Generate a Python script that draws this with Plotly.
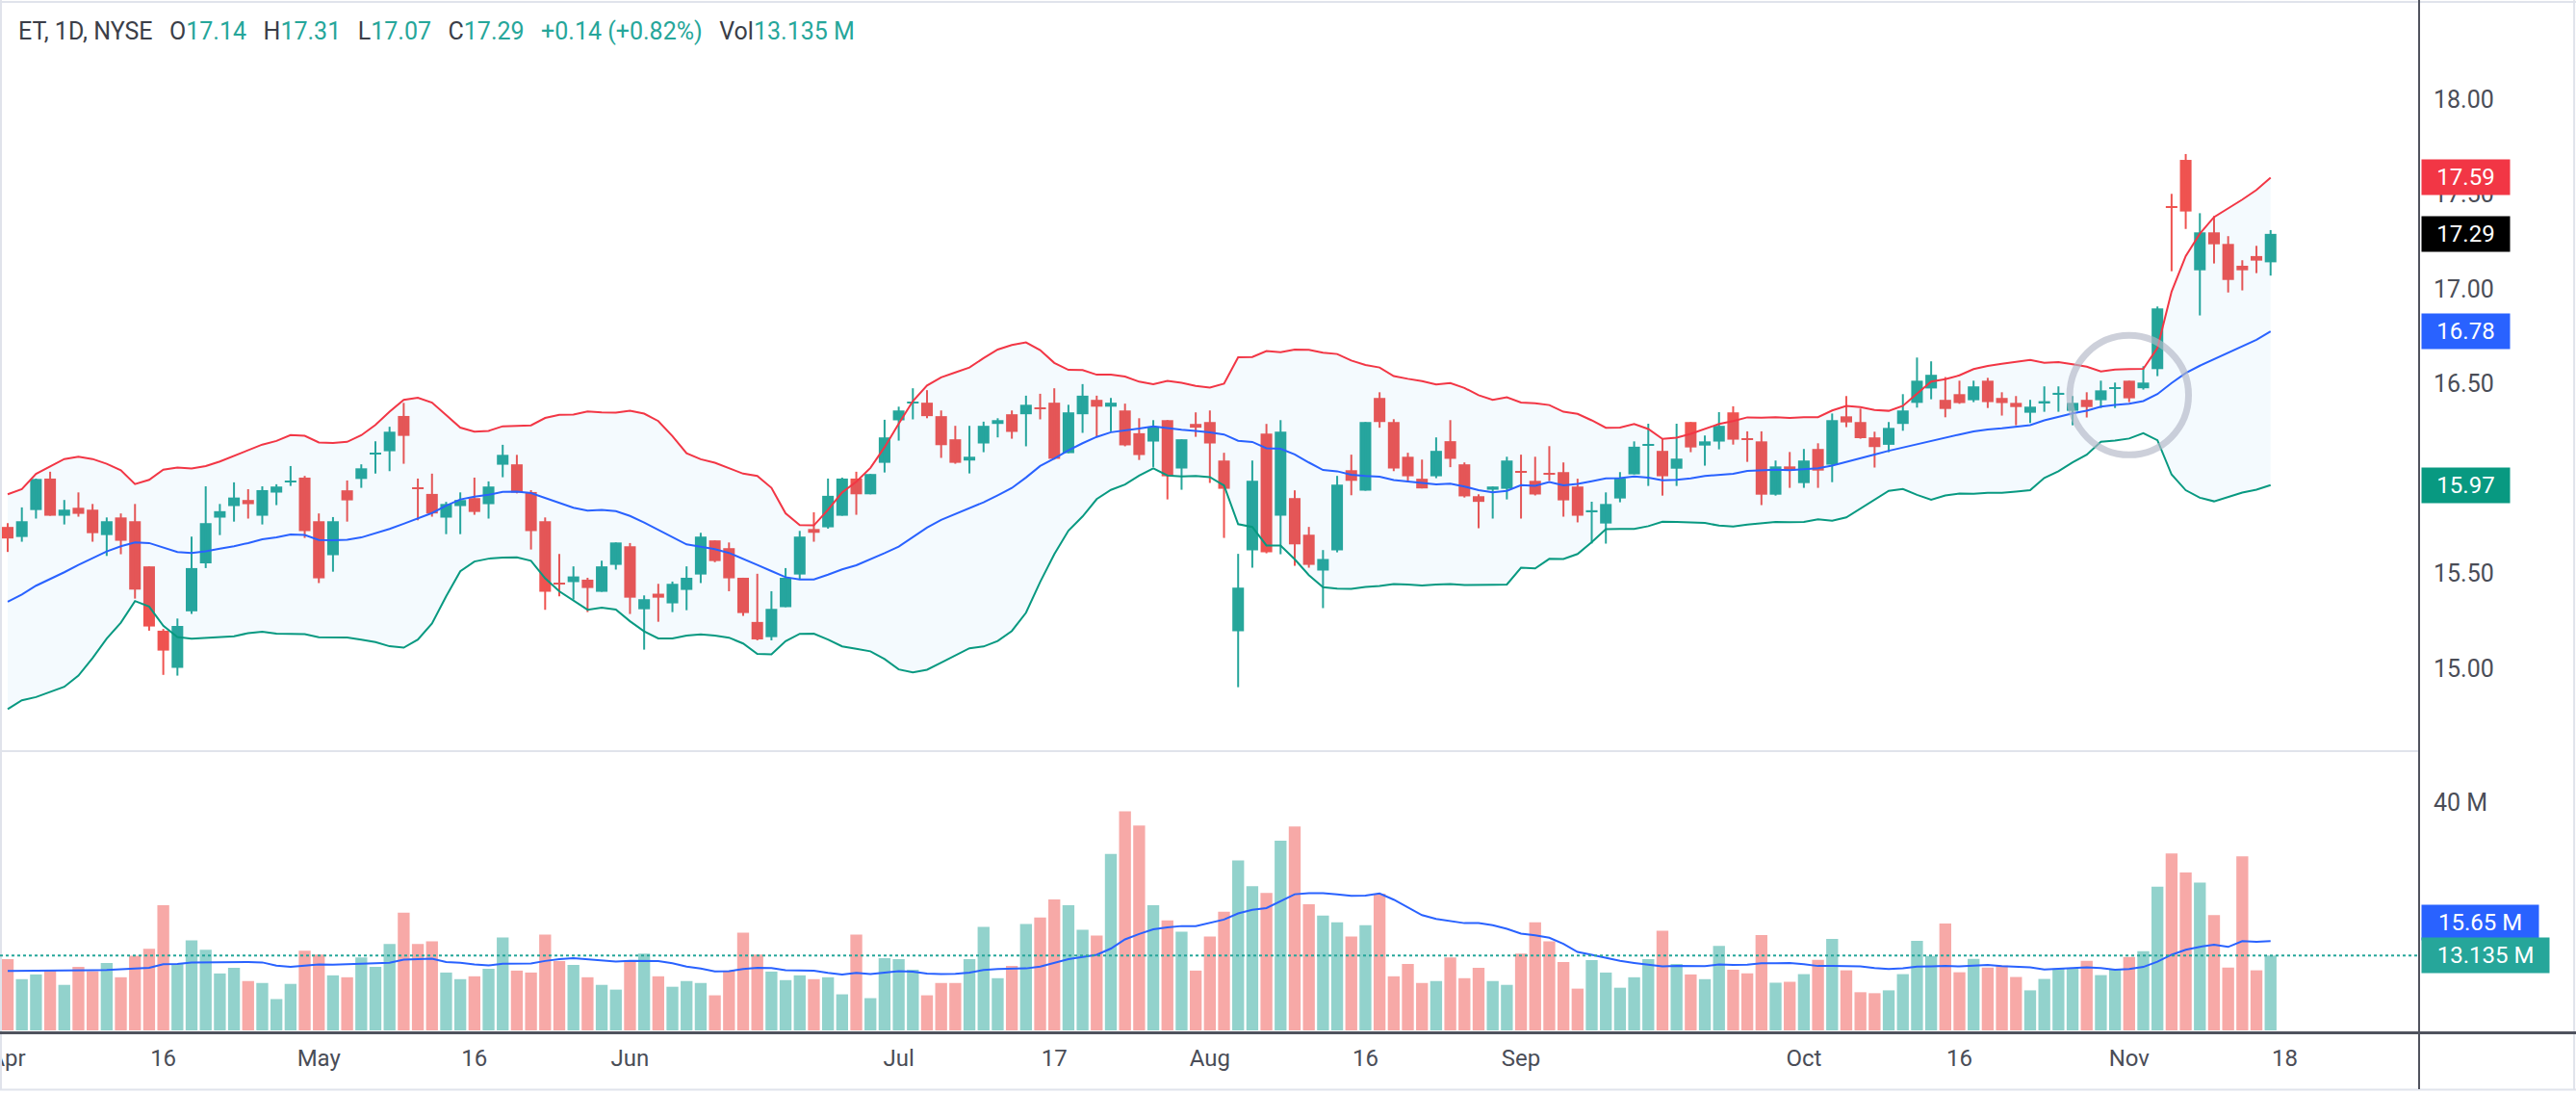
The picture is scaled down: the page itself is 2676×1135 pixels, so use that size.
import pandas as pd
import plotly.graph_objects as go

# ---------------- data (ET, 1D, NYSE, 2024-04-01 .. 2024-11-15) ----------------
opens = [15.745, 15.692, 15.834, 16.000, 15.804, 15.846, 15.836, 15.702, 15.795, 15.775,
         15.537, 15.198, 15.002, 15.300, 15.553, 15.794, 15.855, 15.887, 15.804, 15.926,
         15.980, 16.005, 15.775, 15.596, 15.938, 15.998, 16.127, 16.144, 16.330, 15.954,
         15.919, 15.794, 15.855, 15.897, 15.865, 16.073, 16.075, 15.929, 15.775, 15.449,
         15.454, 15.467, 15.403, 15.545, 15.643, 15.311, 15.393, 15.342, 15.413, 15.494,
         15.674, 15.633, 15.477, 15.244, 15.164, 15.322, 15.494, 15.734, 15.743, 15.804,
         16.000, 15.917, 16.083, 16.307, 16.398, 16.400, 16.329, 16.207, 16.095, 16.185,
         16.288, 16.339, 16.339, 16.374, 16.400, 16.134, 16.339, 16.415, 16.379, 16.359,
         16.239, 16.195, 16.308, 16.053, 16.288, 16.298, 16.095, 15.195, 15.621, 16.237,
         15.804, 15.897, 15.704, 15.515, 15.621, 16.044, 15.936, 16.425, 16.298, 16.115,
         15.999, 16.012, 16.197, 16.075, 15.907, 15.941, 15.946, 16.039, 15.988, 16.029,
         16.034, 15.958, 15.827, 15.763, 15.895, 16.022, 16.174, 16.146, 16.052, 16.298,
         16.174, 16.195, 16.349, 16.213, 16.196, 15.915, 16.064, 15.976, 16.156, 16.073,
         16.328, 16.298, 16.217, 16.178, 16.288, 16.399, 16.475, 16.415, 16.445, 16.413,
         16.516, 16.425, 16.399, 16.347, 16.399, 16.445, 16.357, 16.415, 16.413, 16.476,
         16.516, 16.476, 16.577, 17.435, 17.680, 17.098, 17.298, 17.237, 17.122, 17.173,
         17.14]
highs = [15.765, 15.848, 16.000, 16.036, 15.887, 15.927, 15.866, 15.795, 15.816, 15.866,
         15.537, 15.207, 15.262, 15.694, 15.959, 15.866, 15.980, 15.944, 15.959, 15.970,
         16.066, 16.014, 15.816, 15.797, 15.990, 16.075, 16.196, 16.273, 16.399, 16.000,
         16.026, 15.877, 15.927, 16.005, 15.985, 16.178, 16.125, 15.939, 15.795, 15.602,
         15.537, 15.477, 15.567, 15.663, 15.660, 15.384, 15.445, 15.457, 15.537, 15.714,
         15.674, 15.663, 15.477, 15.498, 15.406, 15.528, 15.724, 15.822, 16.000, 16.005,
         16.036, 16.024, 16.310, 16.379, 16.476, 16.466, 16.359, 16.278, 16.278, 16.300,
         16.318, 16.359, 16.437, 16.447, 16.476, 16.389, 16.498, 16.437, 16.425, 16.395,
         16.318, 16.308, 16.308, 16.207, 16.349, 16.359, 16.136, 15.603, 16.095, 16.288,
         16.308, 15.938, 15.745, 15.623, 16.014, 16.126, 16.298, 16.455, 16.313, 16.136,
         16.100, 16.217, 16.308, 16.085, 15.917, 15.958, 16.115, 16.126, 16.115, 16.171,
         16.085, 15.999, 15.878, 15.927, 16.034, 16.196, 16.289, 16.213, 16.289, 16.298,
         16.227, 16.350, 16.381, 16.249, 16.249, 16.095, 16.140, 16.156, 16.186, 16.343,
         16.435, 16.369, 16.247, 16.298, 16.445, 16.638, 16.618, 16.535, 16.516, 16.516,
         16.531, 16.455, 16.435, 16.415, 16.486, 16.486, 16.435, 16.455, 16.516, 16.506,
         16.516, 16.592, 16.907, 17.501, 17.711, 17.399, 17.384, 17.278, 17.151, 17.227,
         17.31]
lows = [15.613, 15.667, 15.789, 15.804, 15.758, 15.799, 15.667, 15.592, 15.601, 15.367,
        15.198, 14.965, 14.961, 15.286, 15.528, 15.702, 15.773, 15.789, 15.758, 15.860,
        15.961, 15.687, 15.449, 15.509, 15.773, 15.951, 16.027, 16.039, 16.078, 15.780,
        15.799, 15.707, 15.707, 15.809, 15.789, 16.007, 15.922, 15.626, 15.308, 15.379,
        15.362, 15.296, 15.403, 15.520, 15.286, 15.098, 15.245, 15.296, 15.306, 15.449,
        15.559, 15.406, 15.276, 15.147, 15.147, 15.322, 15.471, 15.667, 15.736, 15.804,
        15.809, 15.917, 16.032, 16.200, 16.312, 16.318, 16.109, 16.078, 16.027, 16.139,
        16.217, 16.210, 16.170, 16.312, 16.100, 16.134, 16.241, 16.220, 16.249, 16.170,
        16.098, 16.061, 15.890, 15.941, 16.220, 15.977, 15.687, 14.900, 15.530, 15.606,
        15.601, 15.540, 15.530, 15.317, 15.611, 15.912, 15.936, 16.268, 16.039, 15.982,
        15.948, 16.002, 16.060, 15.900, 15.738, 15.789, 15.890, 15.789, 15.911, 15.988,
        15.799, 15.769, 15.658, 15.657, 15.875, 16.022, 15.961, 15.910, 15.961, 16.139,
        16.068, 16.154, 16.179, 16.088, 15.860, 15.910, 15.951, 15.951, 15.951, 15.981,
        16.271, 16.210, 16.058, 16.139, 16.252, 16.374, 16.418, 16.323, 16.394, 16.403,
        16.372, 16.332, 16.281, 16.293, 16.352, 16.352, 16.281, 16.322, 16.372, 16.372,
        16.403, 16.469, 16.540, 17.093, 17.316, 16.860, 17.134, 16.981, 16.992, 17.083,
        17.07]
closes = [15.684, 15.775, 15.998, 15.804, 15.836, 15.814, 15.712, 15.775, 15.672, 15.415,
          15.220, 15.093, 15.223, 15.528, 15.765, 15.828, 15.900, 15.865, 15.939, 15.958,
          15.985, 15.723, 15.474, 15.775, 15.885, 16.054, 16.134, 16.247, 16.225, 15.948,
          15.816, 15.866, 15.887, 15.824, 15.958, 16.125, 15.926, 15.723, 15.403, 15.443,
          15.484, 15.423, 15.537, 15.663, 15.372, 15.364, 15.372, 15.445, 15.477, 15.694,
          15.565, 15.474, 15.291, 15.152, 15.313, 15.477, 15.694, 15.714, 15.909, 16.000,
          15.917, 16.024, 16.217, 16.359, 16.406, 16.329, 16.176, 16.083, 16.115, 16.278,
          16.308, 16.246, 16.389, 16.367, 16.104, 16.349, 16.437, 16.379, 16.400, 16.175,
          16.124, 16.273, 16.012, 16.207, 16.268, 16.185, 15.946, 15.425, 15.988, 15.611,
          16.247, 15.653, 15.545, 15.576, 15.968, 15.988, 16.298, 16.298, 16.053, 16.012,
          15.948, 16.146, 16.104, 15.906, 15.877, 15.958, 16.095, 16.032, 15.916, 16.022,
          15.885, 15.804, 15.832, 15.866, 16.000, 16.168, 16.181, 16.012, 16.105, 16.164,
          16.196, 16.278, 16.205, 16.206, 15.915, 16.064, 16.044, 16.095, 16.042, 16.308,
          16.296, 16.213, 16.166, 16.267, 16.359, 16.516, 16.547, 16.367, 16.398, 16.486,
          16.403, 16.398, 16.377, 16.379, 16.408, 16.452, 16.399, 16.377, 16.465, 16.482,
          16.423, 16.506, 16.897, 17.428, 17.408, 17.298, 17.235, 17.047, 17.098, 17.149,
          17.29]
volumes_m = [12.47, 8.98, 9.81, 10.53, 7.98, 11.14, 10.37, 11.81, 9.31, 13.08,
             14.30, 21.95, 11.64, 15.80, 14.14, 9.98, 10.98, 8.65, 8.31, 5.49,
             8.15, 13.97, 13.30, 9.65, 9.31, 12.80, 11.14, 15.13, 20.62, 15.13,
             15.63, 10.14, 8.98, 9.48, 10.81, 16.30, 10.48, 10.14, 16.80, 12.14,
             11.47, 9.31, 7.98, 7.15, 12.14, 13.47, 9.48, 7.65, 8.65, 8.31,
             6.15, 10.48, 17.13, 13.30, 10.31, 8.81, 9.65, 8.98, 9.31, 6.32,
             16.80, 5.65, 12.64, 12.47, 10.64, 6.15, 8.31, 8.31, 12.47, 18.13,
             9.15, 11.31, 18.63, 19.79, 22.95, 21.95, 17.63, 16.63, 30.93, 38.41,
             35.92, 21.95, 19.29, 17.29, 10.48, 16.46, 20.79, 29.77, 25.28, 24.11,
             33.26, 35.75, 22.12, 20.12, 18.96, 16.46, 18.46, 23.95, 9.48, 11.64,
             8.31, 8.65, 12.80, 9.15, 10.98, 8.65, 7.98, 13.47, 18.96, 15.63,
             11.97, 7.32, 12.31, 10.14, 7.48, 9.31, 12.47, 17.46, 11.64, 9.81,
             8.98, 14.80, 10.64, 10.00, 16.70, 8.36, 8.52, 9.86, 12.37, 16.04,
             10.53, 6.69, 6.52, 7.02, 9.86, 15.71, 13.04, 18.72, 10.19, 12.53,
             11.03, 11.36, 9.36, 7.02, 9.02, 10.86, 10.86, 12.20, 9.69, 10.70,
             12.87, 13.87, 25.20, 31.00, 27.70, 25.90, 20.22, 11.03, 30.50, 10.53,
             13.135]
# indicator values before the 20-bar window fills
bb_basis_head = [15.350, 15.389, 15.435, 15.469, 15.506, 15.545, 15.582, 15.616, 15.643, 15.663,
                 15.660, 15.638, 15.613, 15.608, 15.616, 15.630, 15.643, 15.660, 15.680]
bb_upper_head = [15.917, 15.944, 16.025, 16.066, 16.103, 16.115, 16.103, 16.078, 16.044, 15.971,
                 15.993, 16.047, 16.058, 16.053, 16.066, 16.090, 16.120, 16.146, 16.179]
bb_lower_head = [14.784, 14.831, 14.848, 14.877, 14.902, 14.961, 15.054, 15.156, 15.240, 15.354,
                 15.325, 15.224, 15.164, 15.156, 15.159, 15.163, 15.168, 15.185, 15.193]
vol_ma_head = [10.42, 10.42, 10.42, 10.48, 10.53, 10.53, 10.53, 10.60, 10.70, 10.80,
               10.98, 11.60, 11.64, 11.90, 11.92, 12.00, 12.03, 12.00, 11.92]

tick_idx = [0, 11, 22, 33, 44, 63, 74, 85, 96, 107, 127, 138, 150, 161]
tick_text = ["Apr", "16", "May", "16", "Jun", "Jul", "17", "Aug", "16", "Sep", "Oct", "16", "Nov", "18"]
price_ticks = [15.0, 15.5, 16.5, 17.0, 17.5, 18.0]
vol_ticks = [40]
highlight_bar = 150
highlight_price = 16.44

# ---------------- indicators ----------------
n = len(closes)
idx = list(range(n))
cs = pd.Series(closes)
basis = cs.rolling(20).mean()
sd = cs.rolling(20).std(ddof=0)
upper = basis + 2 * sd
lower = basis - 2 * sd
h = len(bb_basis_head)
basis.iloc[:h] = bb_basis_head
upper.iloc[:h] = bb_upper_head
lower.iloc[:h] = bb_lower_head
vs = pd.Series(volumes_m)
vol_ma = vs.rolling(20).mean()
vol_ma.iloc[:len(vol_ma_head)] = vol_ma_head

UP = "#26A69A"
DOWN = "#EF5350"
FONT = "Roboto"
TXT = "#4A4D57"

fig = go.Figure()

# wicks
for is_up, col in ((True, UP), (False, DOWN)):
    wx, wy = [], []
    for i in idx:
        if (closes[i] >= opens[i]) == is_up:
            wx += [i, i, None]
            wy += [lows[i], highs[i], None]
    fig.add_trace(go.Scatter(x=wx, y=wy, mode="lines", line=dict(color=col, width=2),
                             hoverinfo="skip", xaxis="x", yaxis="y"))

# bodies
for is_up, col in ((True, UP), (False, DOWN)):
    bx, bb, bh = [], [], []
    for i in idx:
        if (closes[i] >= opens[i]) == is_up:
            bx.append(i)
            bb.append(min(opens[i], closes[i]))
            bh.append(max(abs(closes[i] - opens[i]), 0.006))
    fig.add_trace(go.Bar(x=bx, y=bh, base=bb, width=0.82, marker=dict(color=col, line=dict(width=0)),
                         xaxis="x", yaxis="y"))

# Bollinger bands
fig.add_trace(go.Scatter(x=idx, y=upper, mode="lines", line=dict(color="#F23645", width=2),
                         xaxis="x", yaxis="y"))
fig.add_trace(go.Scatter(x=idx, y=lower, mode="lines", line=dict(color="#089981", width=2),
                         fill="tonexty", fillcolor="rgba(33,150,243,0.05)", xaxis="x", yaxis="y"))
fig.add_trace(go.Scatter(x=idx, y=basis, mode="lines", line=dict(color="#2962FF", width=2),
                         xaxis="x", yaxis="y"))

# volume
vcol = ["rgba(38,166,154,0.5)" if closes[i] >= opens[i] else "rgba(239,83,80,0.5)" for i in idx]
fig.add_trace(go.Bar(x=idx, y=volumes_m, width=0.84, marker=dict(color=vcol, line=dict(width=0)),
                     xaxis="x2", yaxis="y2"))
fig.add_trace(go.Scatter(x=idx, y=vol_ma, mode="lines", line=dict(color="#2962FF", width=2),
                         xaxis="x2", yaxis="y2"))

xr = [-0.545, 170.5]
fig.update_layout(
    width=2676, height=1135,
    margin=dict(l=0, r=163, t=0, b=63, pad=0, autoexpand=False),
    paper_bgcolor="white", plot_bgcolor="white",
    showlegend=False, barmode="overlay",
    font=dict(family=FONT, color=TXT, size=24),
    xaxis=dict(domain=[0, 1], range=xr, anchor="y", showticklabels=False, showgrid=False,
               zeroline=False, showline=False, ticks="", automargin=False),
    xaxis2=dict(domain=[0, 1], range=xr, anchor="y2", showgrid=False, zeroline=False, showline=False,
                ticks="", tickvals=tick_idx, ticktext=tick_text, tickfont=dict(size=24, color=TXT),
                ticklabeloverflow="allow", ticklabelstandoff=12, automargin=False),
    yaxis=dict(domain=[0.2724, 1], range=[14.563, 18.523], side="right", anchor="x", showgrid=False,
               zeroline=False, showline=False, ticks="", tickvals=price_ticks,
               ticktext=["%.2f" % v for v in price_ticks], tickfont=dict(size=25, color=TXT),
               ticklabelstandoff=14, automargin=False),
    yaxis2=dict(domain=[0.00187, 0.2724], range=[0, 48.95], side="right", anchor="x2", showgrid=False,
                zeroline=False, showline=False, ticks="", tickvals=vol_ticks,
                ticktext=["%d M" % v for v in vol_ticks], tickfont=dict(size=25, color=TXT),
                ticklabelstandoff=14, automargin=False),
)

BORDER = "#E0E3EB"
AX = "#50535E"
shapes = [
    # frame
    dict(type="line", xref="paper", yref="paper", x0=0, x1=1.0649, y0=0.9981, y1=0.9981,
         line=dict(color=BORDER, width=2)),
    dict(type="line", xref="paper", yref="paper", x0=0.0004, x1=0.0004, y0=-0.056, y1=1,
         line=dict(color=BORDER, width=2)),
    dict(type="line", xref="paper", yref="paper", x0=1.0641, x1=1.0641, y0=-0.056, y1=1,
         line=dict(color=BORDER, width=2)),
    dict(type="line", xref="paper", yref="paper", x0=0, x1=1.0649, y0=-0.0555, y1=-0.0555,
         line=dict(color=BORDER, width=2)),
    # pane separator
    dict(type="line", xref="paper", yref="paper", x0=0, x1=1, y0=0.2724, y1=0.2724,
         line=dict(color=BORDER, width=2)),
    # price-scale border and time-scale border
    dict(type="line", xref="paper", yref="paper", x0=1, x1=1, y0=-0.055, y1=1,
         line=dict(color=AX, width=2)),
    dict(type="line", xref="paper", yref="paper", x0=0, x1=1.0649, y0=-0.0005, y1=-0.0005,
         line=dict(color=AX, width=3)),
    # last volume dotted line
    dict(type="line", xref="paper", yref="y2", x0=0, x1=1, y0=volumes_m[-1], y1=volumes_m[-1],
         line=dict(color=UP, width=2, dash="dot")),
    # highlight circle
    dict(type="circle", xref="x", yref="y", layer="above",
         x0=highlight_bar - 4.2, x1=highlight_bar + 4.2,
         y0=highlight_price - 0.315, y1=highlight_price + 0.315,
         line=dict(color="rgba(178,183,198,0.65)", width=7)),
]
fig.update_layout(shapes=shapes)

def tag(val, text, color, yref, width, yshift=0):
    return dict(xref="paper", x=1, xanchor="left", xshift=2, yref=yref, y=val, yanchor="middle",
                yshift=yshift, text=text, showarrow=False, bgcolor=color, borderpad=4, width=width,
                align="center", font=dict(family=FONT, size=24, color="white"))

ann = [
    tag(upper.iloc[-1], "%.2f" % upper.iloc[-1], "#F23645", "y", 83),
    tag(closes[-1], "%.2f" % closes[-1], "#000000", "y", 83),
    tag(basis.iloc[-1], "%.2f" % basis.iloc[-1], "#2962FF", "y", 83),
    tag(lower.iloc[-1], "%.2f" % lower.iloc[-1], "#089981", "y", 83),
    tag(vol_ma.iloc[-1], "%.2f M" % vol_ma.iloc[-1], "#2962FF", "y2", 113, yshift=19),
    tag(volumes_m[-1], "%.3f M" % volumes_m[-1], UP, "y2", 124),
]

chg = closes[-1] - closes[-2]
pct = chg / closes[-2] * 100
D = "#3B3E48"
G = UP
sp = "\u00a0\u00a0\u2009"
header = (f'<span style="color:{D}">ET, 1D, NYSE</span>{sp}'
          f'<span style="color:{D}">O</span><span style="color:{G}">{opens[-1]:.2f}</span>{sp}'
          f'<span style="color:{D}">H</span><span style="color:{G}">{highs[-1]:.2f}</span>{sp}'
          f'<span style="color:{D}">L</span><span style="color:{G}">{lows[-1]:.2f}</span>{sp}'
          f'<span style="color:{D}">C</span><span style="color:{G}">{closes[-1]:.2f}</span>{sp}'
          f'<span style="color:{G}">{chg:+.2f} ({pct:+.2f}%)</span>{sp}'
          f'<span style="color:{D}">Vol</span><span style="color:{G}">{volumes_m[-1]:.3f}\u00a0M</span>')
ann.append(dict(xref="paper", yref="paper", x=0, y=1, xanchor="left", yanchor="middle",
                xshift=17, yshift=-32, text=header, showarrow=False, align="left",
                font=dict(family=FONT, size=25, color=D)))
fig.update_layout(annotations=ann)

fig.write_html("out.html", config={"displayModeBar": False},
               post_script="document.body.style.margin='0px';document.body.style.overflow='hidden';")
